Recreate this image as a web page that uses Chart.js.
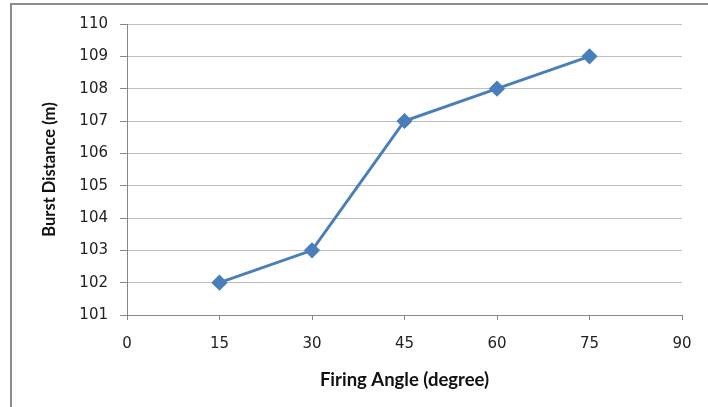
<!DOCTYPE html>
<html lang="en">
<head>
  <meta charset="UTF-8">
  <title>Burst Distance vs Firing Angle</title>
  <script src="https://cdn.jsdelivr.net/npm/chart.js"></script>
  <style>
    body { margin: 0; background: #fff; }
    #wrap { position: relative; width: 708px; height: 407px; }
  </style>
</head>
<body>
  <div id="wrap"><canvas id="chart" width="708" height="407"></canvas></div>

  <script>
    // data
    const angles = [15, 30, 45, 60, 75];
    const distances = [102, 103, 107, 108, 109];
    const xTitle = 'Firing Angle (degree)';
    const yTitle = 'Burst Distance (m)';

    const tickFont = { family: 'DejaVu Sans', size: 15 };

    // grey frame round the whole chart
    const frame = {
      id: 'frame',
      beforeDraw(chart) {
        const c = chart.ctx;
        c.save();
        c.fillStyle = '#fff';
        c.fillRect(0, 0, chart.width, chart.height);
        c.strokeStyle = '#8c8c8c';
        c.lineWidth = 2;
        c.strokeRect(11, 4, 800, 500);
        c.restore();
      }
    };

    new Chart(document.getElementById('chart').getContext('2d'), {
      type: 'line',
      data: {
        datasets: [{
          data: angles.map((a, i) => ({ x: a, y: distances[i] })),
          borderColor: '#4a7ebb',
          backgroundColor: '#4a7ebb',
          borderWidth: 3,
          pointStyle: 'rectRot',
          pointRadius: 6,
          pointHoverRadius: 6,
          tension: 0
        }]
      },
      options: {
        responsive: false,
        animation: false,
        layout: { padding: { left: 0, top: 24, right: 26, bottom: 0 } },
        plugins: { legend: { display: false }, tooltip: { enabled: false } },
        scales: {
          x: {
            type: 'linear',
            min: 0, max: 90,
            ticks: { stepSize: 15, color: '#222', font: tickFont, padding: 15 },
            grid: { drawOnChartArea: false, drawTicks: true, tickLength: 5, color: '#888' },
            border: { color: '#888' },
            title: { display: true, text: xTitle, color: '#111',
                     font: { family: 'Lato', size: 18.5, weight: 'bold' }, padding: { top: 16, bottom: 16 } },
            afterFit: s => { s.height = 407 - 315; }
          },
          y: {
            min: 101, max: 110,
            ticks: { stepSize: 1, color: '#222', font: tickFont, padding: 12 },
            grid: { color: '#bfbfbf', tickLength: 7, tickColor: '#888' },
            border: { color: '#888' },
            title: { display: true, text: yTitle, color: '#111',
                     font: { family: 'Lato', size: 16.5, weight: 'bold' }, padding: { top: 40, bottom: 40 } },
            afterFit: s => { s.width = 127; }
          }
        }
      },
      plugins: [frame]
    });
  </script>
</body>
</html>
